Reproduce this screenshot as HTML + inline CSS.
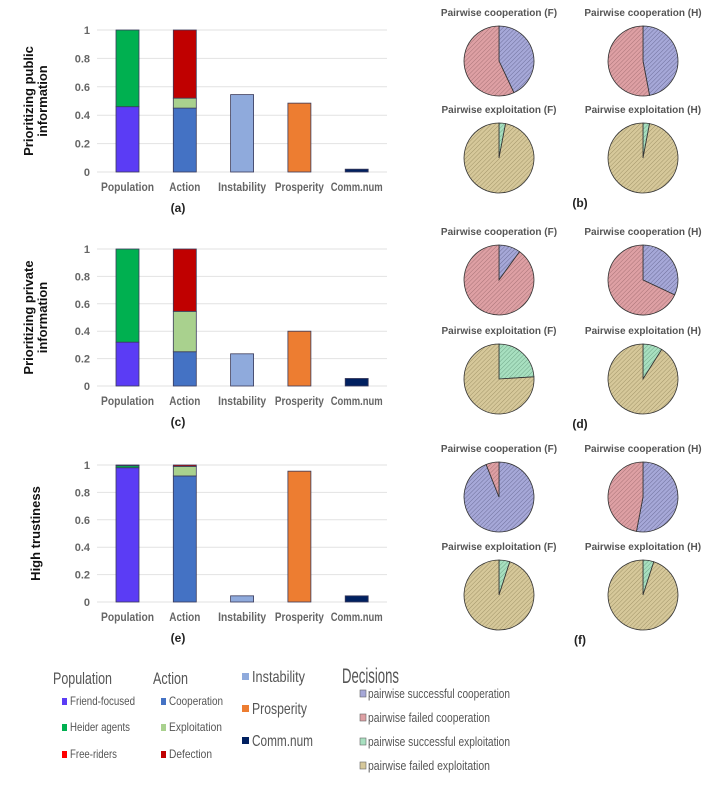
<!DOCTYPE html>
<html><head><meta charset="utf-8">
<style>
html,body{margin:0;padding:0;background:#fff;}
body{width:708px;height:780px;overflow:hidden;font-family:"Liberation Sans",sans-serif;}
svg text{font-family:"Liberation Sans",sans-serif;}
</style></head>
<body>
<svg id="fig" width="708" height="780" viewBox="0 0 708 780" xmlns="http://www.w3.org/2000/svg">
<defs>
<pattern id="hb" width="3" height="3" patternUnits="userSpaceOnUse" patternTransform="rotate(45)"><rect width="3" height="3" fill="#a6a8d8"/><line x1="0" y1="0" x2="0" y2="3" stroke="#6e6f9a" stroke-width="1"/></pattern>
<pattern id="hr" width="3" height="3" patternUnits="userSpaceOnUse" patternTransform="rotate(45)"><rect width="3" height="3" fill="#dea0a4"/><line x1="0" y1="0" x2="0" y2="3" stroke="#a87377" stroke-width="1"/></pattern>
<pattern id="hg" width="3" height="3" patternUnits="userSpaceOnUse" patternTransform="rotate(45)"><rect width="3" height="3" fill="#a8e0c0"/><line x1="0" y1="0" x2="0" y2="3" stroke="#72a78a" stroke-width="1"/></pattern>
<pattern id="ht" width="3" height="3" patternUnits="userSpaceOnUse" patternTransform="rotate(45)"><rect width="3" height="3" fill="#d6c89a"/><line x1="0" y1="0" x2="0" y2="3" stroke="#a29569" stroke-width="1"/></pattern>
</defs>
<g id="charts"></g>
<g id="pies"></g>
<g id="legend">
  <text x="53" y="684" font-size="17" fill="#555" textLength="59" lengthAdjust="spacingAndGlyphs">Population</text>
  <rect x="62" y="698" width="5" height="7" fill="#5b3cf5"/>
  <text x="70" y="705" font-size="12" fill="#555" textLength="65" lengthAdjust="spacingAndGlyphs">Friend-focused</text>
  <rect x="62" y="724" width="5" height="7" fill="#00b050"/>
  <text x="70" y="731" font-size="12" fill="#555" textLength="60" lengthAdjust="spacingAndGlyphs">Heider agents</text>
  <rect x="62" y="751" width="5" height="7" fill="#ff0000"/>
  <text x="70" y="758" font-size="12" fill="#555" textLength="47" lengthAdjust="spacingAndGlyphs">Free-riders</text>
  <text x="153" y="684" font-size="17" fill="#555" textLength="35" lengthAdjust="spacingAndGlyphs">Action</text>
  <rect x="161" y="698" width="5" height="7" fill="#4472c4"/>
  <text x="169" y="705" font-size="12" fill="#555" textLength="54" lengthAdjust="spacingAndGlyphs">Cooperation</text>
  <rect x="161" y="724" width="5" height="7" fill="#a9d18e"/>
  <text x="169" y="731" font-size="12" fill="#555" textLength="53" lengthAdjust="spacingAndGlyphs">Exploitation</text>
  <rect x="161" y="751" width="5" height="7" fill="#c00000"/>
  <text x="169" y="758" font-size="12" fill="#555" textLength="43" lengthAdjust="spacingAndGlyphs">Defection</text>
  <rect x="242" y="673" width="7" height="7" fill="#8faadc"/>
  <text x="252" y="682" font-size="16" fill="#555" textLength="53" lengthAdjust="spacingAndGlyphs">Instability</text>
  <rect x="242" y="705" width="7" height="7" fill="#ed7d31"/>
  <text x="252" y="714" font-size="16" fill="#555" textLength="55" lengthAdjust="spacingAndGlyphs">Prosperity</text>
  <rect x="242" y="737" width="7" height="7" fill="#002060"/>
  <text x="252" y="746" font-size="16" fill="#555" textLength="61" lengthAdjust="spacingAndGlyphs">Comm.num</text>
  <text x="342" y="683" font-size="21" fill="#555" textLength="57" lengthAdjust="spacingAndGlyphs">Decisions</text>
  <rect x="360" y="690" width="6" height="7" fill="#a6a8d8" stroke="#666" stroke-width="0.6"/>
  <text x="368" y="698" font-size="12.5" fill="#555" textLength="142" lengthAdjust="spacingAndGlyphs">pairwise successful cooperation</text>
  <rect x="360" y="714" width="6" height="7" fill="#dea0a4" stroke="#666" stroke-width="0.6"/>
  <text x="368" y="722" font-size="12.5" fill="#555" textLength="122" lengthAdjust="spacingAndGlyphs">pairwise failed cooperation</text>
  <rect x="360" y="738" width="6" height="7" fill="#a8e0c0" stroke="#666" stroke-width="0.6"/>
  <text x="368" y="746" font-size="12.5" fill="#555" textLength="142" lengthAdjust="spacingAndGlyphs">pairwise successful exploitation</text>
  <rect x="360" y="762" width="6" height="7" fill="#d6c89a" stroke="#666" stroke-width="0.6"/>
  <text x="368" y="770" font-size="12.5" fill="#555" textLength="122" lengthAdjust="spacingAndGlyphs">pairwise failed exploitation</text>
</g>
</svg>
<script>
// ---- bar chart data ----
const categories = ["Population","Action","Instability","Prosperity","Comm.num"];
const tickLabels = ["0","0.2","0.4","0.6","0.8","1"];
const tickValues = [0,0.2,0.4,0.6,0.8,1];
const panelTitles = [["Prioritizing public","information"],["Prioritizing private","information"],["High trustiness"]];
const panelLetters = ["(a)","(c)","(e)"];
// Population stacks: friend-focused, heider, free-riders
const popFriend = [0.46, 0.32, 0.98];
const popHeider = [0.54, 0.68, 0.015];
const popFree   = [0.0, 0.0, 0.005];
// Action stacks: cooperation, exploitation, defection
const actCoop    = [0.45, 0.25, 0.92];
const actExploit = [0.07, 0.295, 0.07];
const actDefect  = [0.48, 0.455, 0.01];
const instability = [0.545, 0.235, 0.045];
const prosperity  = [0.485, 0.40, 0.955];
const commNum     = [0.02, 0.055, 0.045];
// ---- pie data (fraction of successful slice, clockwise from top) ----
const pieTitles = ["Pairwise cooperation (F)","Pairwise cooperation (H)","Pairwise exploitation (F)","Pairwise exploitation (H)"];
const pieLetters = ["(b)","(d)","(f)"];
const coopF = [0.43, 0.10, 0.94];
const coopH = [0.47, 0.32, 0.53];
const exploitF = [0.03, 0.24, 0.05];
const exploitH = [0.03, 0.09, 0.05];

const NS="http://www.w3.org/2000/svg";
function mk(tag, attrs, parent){const e=document.createElementNS(NS,tag);for(const k in attrs)e.setAttribute(k,attrs[k]);parent.appendChild(e);return e;}

const labelWidth={"Population":53,"Action":31,"Instability":48,"Prosperity":49,"Comm.num":52};
const panelTop=[30,249,465], panelZero=[172,386,602];
const xLeft=97, xRight=387, step=57.3, barW=23, firstX=116;
const charts=document.getElementById('charts');
for(let p=0;p<3;p++){
  const g=mk('g',{},charts);
  
  
  const y=v=>panelZero[p]-v*(panelZero[p]-panelTop[p]);
  const x=i=>firstX+i*step;
  tickValues.forEach((t,i)=>{
    const l=mk('line',{x1:xLeft,x2:xRight,y1:y(t),y2:y(t),stroke:'#e2e2e2','stroke-width':1},g);
    
    
    const tx=mk('text',{x:90,y:y(t)+4,'font-size':11,fill:'#666','text-anchor':'end','font-weight':'bold'},g);
    tx.textContent=tickLabels[i];
    
    
  });
  function bar(i,v0,v1,col,name){
    if(v1-v0<=0)return;
    const r=mk('rect',{x:x(i),y:y(v1),width:barW,height:y(v0)-y(v1),fill:col,stroke:'#3a3a5a','stroke-width':0.8},g);
    
    
  }
  let a=popFriend[p],b=a+popHeider[p],c=b+popFree[p];
  bar(0,0,a,'#5b3cf5','bar-friend-focused');bar(0,a,b,'#00b050','bar-heider-agents');bar(0,b,c,'#ff0000','bar-free-riders');
  a=actCoop[p];b=a+actExploit[p];c=b+actDefect[p];
  bar(1,0,a,'#4472c4','bar-cooperation');bar(1,a,b,'#a9d18e','bar-exploitation');bar(1,b,c,'#c00000','bar-defection');
  bar(2,0,instability[p],'#8faadc','bar-instability');
  bar(3,0,prosperity[p],'#ed7d31','bar-prosperity');
  bar(4,0,commNum[p],'#002060','bar-comm-num');
  categories.forEach((cName,i)=>{
    const t=mk('text',{x:x(i)+barW/2,y:panelZero[p]+19,'font-size':11.5,fill:'#666','text-anchor':'middle','font-weight':'bold',textLength:labelWidth[cName]||50,lengthAdjust:'spacingAndGlyphs'},g);
    t.textContent=cName;
    
    
  });
  const lt=mk('text',{x:178,y:panelZero[p]+40,'font-size':12,'font-weight':'bold',fill:'#222','text-anchor':'middle'},g);
  lt.textContent=panelLetters[p];
  
  
  const cy=(panelTop[p]+panelZero[p])/2;
  const lines=panelTitles[p];
  lines.forEach((ln,k)=>{
    const xx = lines.length===1?40:(33+k*14);
    const t=mk('text',{x:xx,y:cy,'font-size':13,'font-weight':'bold',fill:'#111','text-anchor':'middle',transform:`rotate(-90 ${xx} ${cy})`},g);
    t.textContent=ln;
    
    
  });
}

// ---- pies ----
const pies=document.getElementById('pies');
const pieRowY=[[61,158],[280,379],[497,595]];
const pieColX=[499,643];
const R=35;
function arc(cx,cy,f0,f1){
  const a0=2*Math.PI*f0-Math.PI/2,a1=2*Math.PI*f1-Math.PI/2;
  const large=(f1-f0)>0.5?1:0;
  return `M${cx},${cy} L${cx+R*Math.cos(a0)},${cy+R*Math.sin(a0)} A${R},${R} 0 ${large} 1 ${cx+R*Math.cos(a1)},${cy+R*Math.sin(a1)} Z`;
}
for(let p=0;p<3;p++){
  const vals=[coopF[p],coopH[p],exploitF[p],exploitH[p]];
  for(let k=0;k<4;k++){
    const cx=pieColX[k%2], cy=pieRowY[p][Math.floor(k/2)];
    const g=mk('g',{},pies);
    
    
    const coop=k<2;
    const s1=mk('path',{d:arc(cx,cy,0,vals[k]),fill:coop?'url(#hb)':'url(#hg)',stroke:'#333','stroke-width':0.8},g);
    
    
    const s2=mk('path',{d:arc(cx,cy,vals[k],1),fill:coop?'url(#hr)':'url(#ht)',stroke:'#333','stroke-width':0.8},g);
    
    
    const t=mk('text',{x:cx,y:cy-R-10,'font-size':10,'font-weight':'bold',fill:'#555','text-anchor':'middle'},g);
    t.textContent=pieTitles[k];
    
    
  }
  const lt=mk('text',{x:580,y:pieRowY[p][1]+R+14,'font-size':12,'font-weight':'bold',fill:'#222','text-anchor':'middle'},pies);
  lt.textContent=pieLetters[p];
  
  
}
</script>
</body></html>
